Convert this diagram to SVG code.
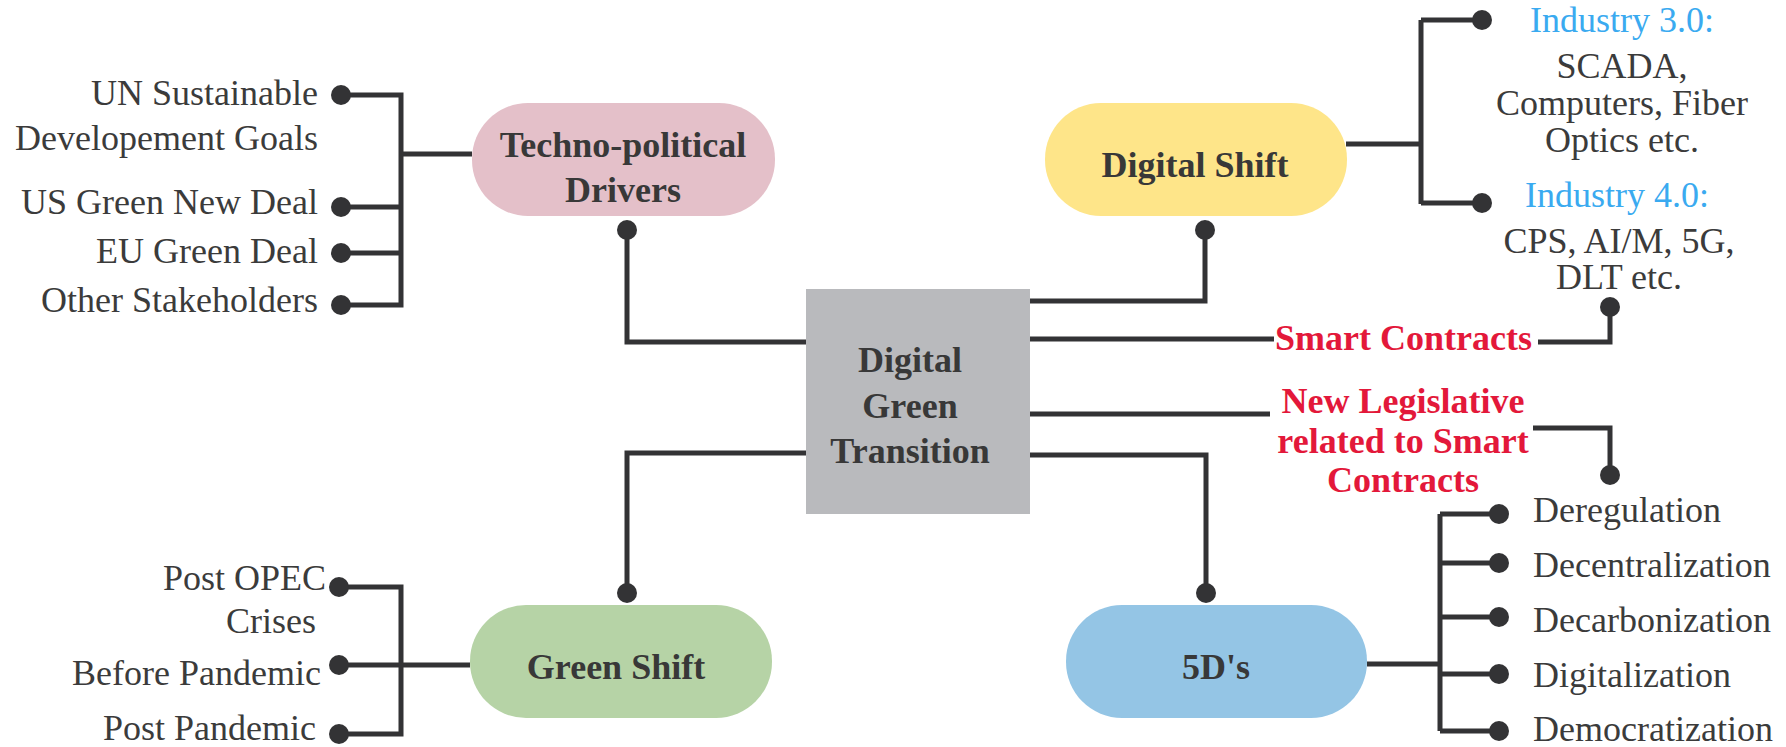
<svg xmlns="http://www.w3.org/2000/svg" width="1786" height="747" viewBox="0 0 1786 747">
<style>
.ln{fill:none;stroke:#333335;stroke-width:5}
.dot{fill:#333335}
.lbl{font-family:"Liberation Serif",serif;font-size:36px;fill:#3b3b3b}
.bold{font-family:"Liberation Serif",serif;font-size:36px;font-weight:bold;fill:#383838}
.blue{font-family:"Liberation Serif",serif;font-size:36px;fill:#3aaaf0}
.red{font-family:"Liberation Serif",serif;font-size:36px;font-weight:bold;fill:#e3183a}
</style>
<rect width="1786" height="747" fill="#ffffff"/>
<g id="connectors">
<path class="ln" d="M341 95 H401 V305 H341 M341 207 H401 M341 253 H401 M401 154 H472"/>
<path class="ln" d="M627 230 V342 H806"/>
<circle class="dot" cx="341" cy="95" r="10"/>
<circle class="dot" cx="341" cy="207" r="10"/>
<circle class="dot" cx="341" cy="253" r="10"/>
<circle class="dot" cx="341" cy="305" r="10"/>
<circle class="dot" cx="627" cy="230" r="10"/>
<path class="ln" d="M339 587 H401 V734 H339 M339 665 H470"/>
<path class="ln" d="M627 593 V453 H806"/>
<circle class="dot" cx="339" cy="587" r="10"/>
<circle class="dot" cx="339" cy="665" r="10"/>
<circle class="dot" cx="339" cy="734" r="10"/>
<circle class="dot" cx="627" cy="593" r="10"/>
<path class="ln" d="M1030 301 H1205 V230"/>
<circle class="dot" cx="1205" cy="230" r="10"/>
<path class="ln" d="M1346 144 H1421 M1421 20 V204 M1421 20 H1482 M1421 203 H1482"/>
<circle class="dot" cx="1482" cy="20" r="10"/>
<circle class="dot" cx="1482" cy="203" r="10"/>
<path class="ln" d="M1030 339 H1274"/>
<path class="ln" d="M1538 342 H1610 V307"/>
<circle class="dot" cx="1610" cy="307" r="10"/>
<path class="ln" d="M1030 414 H1270"/>
<path class="ln" d="M1533 428 H1610 V475"/>
<circle class="dot" cx="1610" cy="475" r="10"/>
<path class="ln" d="M1030 455 H1206 V593"/>
<circle class="dot" cx="1206" cy="593" r="10"/>
<path class="ln" d="M1367 664 H1440 M1440 514 V731 M1440 514 H1499 M1440 563 H1499 M1440 617 H1499 M1440 674 H1499 M1440 731 H1499"/>
<circle class="dot" cx="1499" cy="514" r="10"/>
<circle class="dot" cx="1499" cy="563" r="10"/>
<circle class="dot" cx="1499" cy="617" r="10"/>
<circle class="dot" cx="1499" cy="674" r="10"/>
<circle class="dot" cx="1499" cy="731" r="10"/>
</g>
<g id="center">
<rect x="806" y="289" width="224" height="225" fill="#b9babd"/>
<text class="bold" text-anchor="middle" x="910" y="372">Digital</text>
<text class="bold" text-anchor="middle" x="910" y="418">Green</text>
<text class="bold" text-anchor="middle" x="910" y="463">Transition</text>
</g>
<g id="techno-political">
<rect x="472" y="103" width="303" height="113" rx="56" ry="56" fill="#e4c0c9"/>
<text class="bold" text-anchor="middle" x="623" y="157">Techno-political</text>
<text class="bold" text-anchor="middle" x="623" y="202">Drivers</text>
</g>
<g id="digital-shift">
<rect x="1045" y="103" width="302" height="113" rx="56" ry="56" fill="#fee589"/>
<text class="bold" text-anchor="middle" x="1195" y="177">Digital Shift</text>
</g>
<g id="green-shift">
<rect x="470" y="605" width="302" height="113" rx="56" ry="56" fill="#b6d3a6"/>
<text class="bold" text-anchor="middle" x="616" y="679">Green Shift</text>
</g>
<g id="five-ds">
<rect x="1066" y="605" width="301" height="113" rx="56" ry="56" fill="#94c5e5"/>
<text class="bold" text-anchor="middle" x="1216" y="679">5D's</text>
</g>
<g id="techno-items">
<text class="lbl" text-anchor="end" x="318" y="105">UN Sustainable</text>
<text class="lbl" text-anchor="end" x="318" y="150">Developement Goals</text>
<text class="lbl" text-anchor="end" x="318" y="214">US Green New Deal</text>
<text class="lbl" text-anchor="end" x="318" y="263">EU Green Deal</text>
<text class="lbl" text-anchor="end" x="318" y="312">Other Stakeholders</text>
</g>
<g id="green-items">
<text class="lbl" text-anchor="end" x="326" y="590">Post OPEC</text>
<text class="lbl" text-anchor="end" x="316" y="633">Crises</text>
<text class="lbl" text-anchor="end" x="321" y="685">Before Pandemic</text>
<text class="lbl" text-anchor="end" x="316" y="740">Post Pandemic</text>
</g>
<g id="industry-3">
<text class="blue" text-anchor="middle" x="1622" y="32">Industry 3.0:</text>
<text class="lbl" text-anchor="middle" x="1622" y="78">SCADA,</text>
<text class="lbl" text-anchor="middle" x="1622" y="115">Computers, Fiber</text>
<text class="lbl" text-anchor="middle" x="1622" y="152">Optics etc.</text>
</g>
<g id="industry-4">
<text class="blue" text-anchor="middle" x="1617" y="207">Industry 4.0:</text>
<text class="lbl" text-anchor="middle" x="1619" y="253">CPS, AI/M, 5G,</text>
<text class="lbl" text-anchor="middle" x="1619" y="289">DLT etc.</text>
</g>
<g id="smart-contracts">
<text class="red" x="1275" y="350">Smart Contracts</text>
</g>
<g id="new-legislative">
<text class="red" text-anchor="middle" x="1403" y="413">New Legislative</text>
<text class="red" text-anchor="middle" x="1403" y="453">related to Smart</text>
<text class="red" text-anchor="middle" x="1403" y="492">Contracts</text>
</g>
<g id="five-ds-items">
<text class="lbl" x="1533" y="522">Deregulation</text>
<text class="lbl" x="1533" y="577">Decentralization</text>
<text class="lbl" x="1533" y="632">Decarbonization</text>
<text class="lbl" x="1533" y="687">Digitalization</text>
<text class="lbl" x="1533" y="741">Democratization</text>
</g>
</svg>
